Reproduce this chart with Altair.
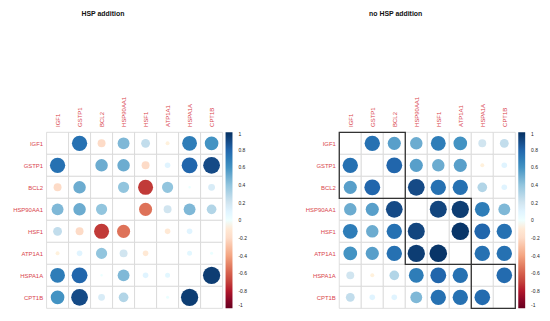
import altair as alt
import pandas as pd

genes = ["IGF1", "GSTP1", "BCL2", "HSP90AA1", "HSF1", "ATP1A1", "HSPA1A", "CPT1B"]

# correlation matrices (diagonal left blank as in the figure)
hsp_addition = [
    [None, 0.75, -0.20, 0.45, 0.25, -0.05, 0.70, 0.60],
    [0.75, None, 0.50, 0.50, -0.20, 0.10, 0.80, 0.90],
    [-0.20, 0.50, None, 0.40, -0.72, 0.40, 0.02, 0.15],
    [0.45, 0.50, 0.40, None, -0.55, 0.20, 0.45, 0.30],
    [0.25, -0.20, -0.72, -0.55, None, -0.10, 0.10, 0.00],
    [-0.05, 0.10, 0.40, 0.20, -0.10, None, 0.08, 0.03],
    [0.70, 0.80, 0.02, 0.45, 0.10, 0.08, None, 0.95],
    [0.60, 0.90, 0.15, 0.30, 0.00, 0.03, 0.95, None],
]

no_hsp_addition = [
    [None, 0.75, 0.55, 0.50, 0.70, 0.60, 0.20, 0.25],
    [0.75, None, 0.80, 0.55, 0.50, 0.55, -0.05, 0.10],
    [0.55, 0.80, None, 0.90, 0.75, 0.75, 0.30, 0.10],
    [0.50, 0.55, 0.90, None, 0.92, 0.95, 0.70, 0.45],
    [0.70, 0.50, 0.75, 0.92, None, 0.98, 0.80, 0.75],
    [0.60, 0.55, 0.75, 0.95, 0.98, None, 0.75, 0.75],
    [0.20, -0.05, 0.30, 0.70, 0.80, 0.75, None, 0.78],
    [0.25, 0.10, 0.10, 0.45, 0.75, 0.75, 0.78, None],
]

# hierarchical cluster boxes (start index, end index) for the right panel
no_hsp_clusters = [(0, 3), (3, 6), (6, 8)]

palette = ["#67001F", "#B2182B", "#D6604D", "#F4A582", "#FDDBC7", "#FFFFFF",
           "#D1E5F0", "#92C5DE", "#4393C3", "#2166AC", "#053061"]
color_domain = [-1, -0.8, -0.6, -0.4, -0.2, 0, 0.2, 0.4, 0.6, 0.8, 1]

FONT = "Liberation Sans"
LABEL_RED = "#d9444c"
N = len(genes)
label_expr = "[" + ",".join("'%s'" % g for g in genes) + "][floor(datum.value)]"
centers = [i + 0.5 for i in range(N)]


def panel(mat, title, clusters):
    cells = []
    for i in range(N):
        for j in range(N):
            r = mat[i][j]
            cells.append({
                "x0": j, "x1": j + 1, "y0": i, "y1": i + 1,
                "xc": j + 0.5, "yc": i + 0.5,
                "r": r, "absr": None if r is None else abs(r),
            })
    df = pd.DataFrame(cells)

    xscale = alt.Scale(domain=[0, N], nice=False, zero=False)
    yscale = alt.Scale(domain=[0, N], nice=False, zero=False, reverse=True)
    xaxis = alt.Axis(orient="top", values=centers, labelExpr=label_expr,
                     labelAngle=-90, labelAlign="left", labelBaseline="middle",
                     labelOverlap=False, labelPadding=6)
    yaxis = alt.Axis(orient="left", values=centers, labelExpr=label_expr,
                     labelOverlap=False, labelPadding=4)

    grid = alt.Chart(df).mark_rect(fill="white", stroke="#d6d6d6", strokeWidth=0.8).encode(
        x=alt.X("x0:Q", scale=xscale, title=None, axis=xaxis),
        x2="x1:Q",
        y=alt.Y("y0:Q", scale=yscale, title=None, axis=yaxis),
        y2="y1:Q",
    )

    circles = alt.Chart(df).transform_filter("isValid(datum.r)").mark_circle(opacity=1).encode(
        x=alt.X("xc:Q", scale=xscale, title=None, axis=xaxis),
        y=alt.Y("yc:Q", scale=yscale, title=None, axis=yaxis),
        size=alt.Size("absr:Q", scale=alt.Scale(domain=[0, 1], range=[0, 320]), legend=None),
        color=alt.Color("r:Q",
                        scale=alt.Scale(domain=color_domain, range=palette),
                        legend=alt.Legend(title=None, orient="right", direction="vertical",
                                          gradientLength=178, gradientThickness=7,
                                          values=color_domain, labelFontSize=5,
                                          labelExpr="'' + datum.value",
                                          labelFont=FONT, labelColor="#222",
                                          labelOverlap=False, offset=3, labelOffset=6,
                                          gradientStrokeWidth=0)),
    )

    layers = [grid, circles]
    if clusters:
        bdf = pd.DataFrame([{"a": a, "b": b} for a, b in clusters])
        boxes = alt.Chart(bdf).mark_rect(filled=False, stroke="#333333", strokeWidth=1.3).encode(
            x=alt.X("a:Q", scale=xscale, title=None, axis=xaxis), x2="b:Q",
            y=alt.Y("a:Q", scale=yscale, title=None, axis=yaxis), y2="b:Q",
        )
        layers.append(boxes)

    return alt.layer(*layers).properties(
        width=178, height=178,
        title=alt.TitleParams(title, fontSize=7, fontWeight="bold", font=FONT,
                              anchor="middle", frame="group", dx=-32, offset=80, color="#111"),
    )


left = panel(hsp_addition, "HSP addition", None)
right = panel(no_hsp_addition, "no HSP addition", no_hsp_clusters)

chart = alt.hconcat(left, right, spacing=58).resolve_scale(color="independent").configure_view(
    stroke=None
).configure_axis(
    labelFont=FONT, labelFontSize=6, labelColor=LABEL_RED, ticks=False, domain=False,
    grid=False, labelOverlap=False,
).properties(padding={"left": 4, "top": 0, "right": 2, "bottom": 2})

chart.save("out.html", embed_options={"renderer": "svg", "actions": False})
